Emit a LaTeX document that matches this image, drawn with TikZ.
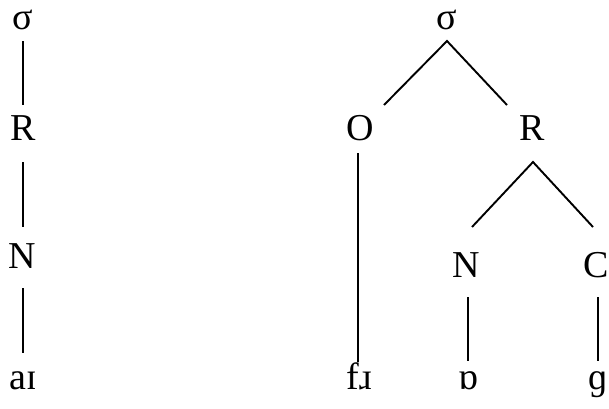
\documentclass[tikz,border=0pt]{standalone}
\usepackage{fontspec}
\setmainfont{Liberation Serif}
\begin{document}
\begin{tikzpicture}[x=1pt,y=-1pt,
  lbl/.style={anchor=base, inner sep=0pt, font=\fontsize{38}{40}\selectfont},
  edge/.style={line width=1.9pt}]
\useasboundingbox (0,0) rectangle (609,408);
% left tree
\node[lbl] (s1) at (22.7,29) {σ};
\node[lbl] (r1) at (22.7,140) {R};
\node[lbl] (n1) at (22.7,268) {N};
\node[lbl] (p1) at (23.5,389) {aɪ};
% right tree
\node[lbl] (s2) at (447,29) {σ};
\node[lbl] (o2) at (360,140) {O};
\node[lbl] (r2) at (532,140) {R};
\node[lbl] (n2) at (466,277) {N};
\node[lbl] (c2) at (596,277) {C};
\node[lbl] (f2) at (359,389) {fɹ};
\node[lbl] (v2) at (468,389) {ɒ};
\node[lbl] (g2) at (598,389) {ɡ};
% edges left
\draw[edge] ([shift={(0,12)}]s1.base) -- ([shift={(0,-35)}]r1.base);
\draw[edge] ([shift={(0,22)}]r1.base) -- ([shift={(0,-41)}]n1.base);
\draw[edge] ([shift={(0,20)}]n1.base) -- ([shift={(-0.8,-36)}]p1.base);
% edges right
\draw[edge] ([shift={(24,-35)}]o2.base) -- ([shift={(0,12)}]s2.base) -- ([shift={(-25,-35)}]r2.base);
\draw[edge] ([shift={(-2,13)}]o2.base) -- ([shift={(-1,-27)}]f2.base);
\draw[edge] ([shift={(6,-50)}]n2.base) -- ([shift={(1,22)}]r2.base) -- ([shift={(-3,-50)}]c2.base);
\draw[edge] ([shift={(2,20)}]n2.base) -- ([shift={(0,-28)}]v2.base);
\draw[edge] ([shift={(2,20)}]c2.base) -- ([shift={(0,-28)}]g2.base);
\end{tikzpicture}
\end{document}
